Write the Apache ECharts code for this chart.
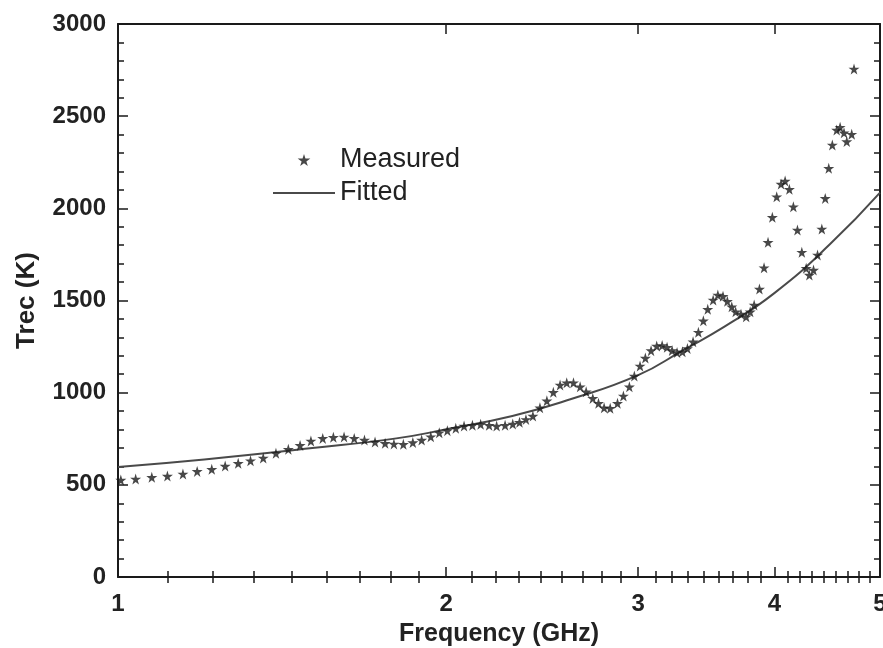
<!DOCTYPE html>
<html>
<head>
<meta charset="utf-8">
<script src="https://cdn.jsdelivr.net/npm/echarts@6/dist/echarts.min.js"></script>
<style>
html, body { margin: 0; padding: 0; background: #fff; }
#chart { width: 883px; height: 648px; }
</style>
</head>
<body>
<div id="chart"></div>
<script>
// Measured receiver temperature (K) vs frequency (GHz)
const measFreq = [
  1.006, 1.038, 1.074, 1.110, 1.147, 1.182, 1.219, 1.254, 1.289, 1.323,
  1.359, 1.396, 1.433, 1.469, 1.503, 1.541, 1.576, 1.612, 1.647, 1.683,
  1.721, 1.758, 1.791, 1.827, 1.864, 1.899, 1.936, 1.971, 2.005, 2.041,
  2.077, 2.114, 2.151, 2.190, 2.225, 2.265, 2.302, 2.335, 2.367, 2.402,
  2.438, 2.474, 2.508, 2.544, 2.580, 2.617, 2.654, 2.688, 2.726, 2.759,
  2.792, 2.828, 2.872, 2.908, 2.945, 2.976, 3.012, 3.046, 3.083, 3.120,
  3.156, 3.189, 3.223, 3.257, 3.294, 3.329, 3.369, 3.407, 3.443, 3.475,
  3.515, 3.550, 3.589, 3.622, 3.656, 3.686, 3.728, 3.769, 3.801, 3.833,
  3.876, 3.914, 3.947, 3.983, 4.020, 4.057, 4.092, 4.129, 4.164, 4.200,
  4.239, 4.278, 4.307, 4.345, 4.382, 4.422, 4.454, 4.487, 4.521, 4.563,
  4.596, 4.634, 4.661, 4.710, 4.733
];
const measTrec = [
  526, 532, 541, 548, 559, 573, 584, 602, 617, 631,
  646, 671, 693, 714, 738, 752, 758, 760, 752, 743,
  732, 725, 722, 720, 729, 743, 761, 783, 794, 807,
  819, 823, 828, 823, 819, 823, 830, 839, 855, 873,
  918, 956, 1002, 1042, 1054, 1054, 1032, 1005, 969, 942,
  918, 915, 942, 982, 1032, 1090, 1145, 1188, 1228, 1253,
  1256, 1246, 1229, 1218, 1222, 1239, 1276, 1328, 1390, 1452,
  1503, 1530, 1523, 1496, 1466, 1439, 1426, 1412, 1439, 1476,
  1562, 1678, 1816, 1951, 2063, 2132, 2148, 2103, 2009, 1882,
  1762, 1675, 1638, 1665, 1747, 1888, 2054, 2217, 2344, 2425,
  2440, 2410, 2362, 2402, 2756
];

// Fitted curve
const fitFreq = [1.0, 1.2, 1.5, 1.8, 2.0, 2.3, 2.6, 3.0, 3.3, 3.6, 4.0, 4.5, 5.0];
const fitTrec = [597, 638, 698, 752, 801, 873, 964, 1095, 1231, 1358, 1540, 1806, 2085];

// Axis ticks
const xMajor = [1, 2, 3, 4, 5];
const xMinor = [];
for (let i = 1; i < 5; i++) {
  for (let k = 1; k <= 8; k++) xMinor.push(i + k / 9);
}

const starPath = 'path://M50,0 L61,35 L98,35 L68,57 L79,91 L50,70 L21,91 L32,57 L2,35 L39,35 Z';
const dashPath = 'path://M0,0 L62,0 L62,2 L0,2 Z';
const font = 'Liberation Sans';
const ink = '#1a1a1a';

const chart = echarts.init(document.getElementById('chart'));

const lineStyle = { color: ink, width: 2 };
const tickStyle = { color: ink, width: 1.5 };

function logAxis(pos, extra) {
  return Object.assign({
    type: 'log',
    logBase: 10,
    min: 1,
    max: 5,
    position: pos,
    axisLine: { show: false },
    axisLabel: { show: false },
    splitLine: { show: false },
    minorTick: { show: false },
    minorSplitLine: { show: false }
  }, extra);
}

const option = {
  animation: false,
  backgroundColor: '#fff',
  grid: { left: 118, right: 3, top: 24, bottom: 71, containLabel: false, outerBoundsMode: 'none' },
  legend: {
    orient: 'vertical',
    left: 268,
    top: 140,
    itemWidth: 62,
    itemHeight: 12,
    itemGap: 3,
    textStyle: { fontFamily: font, fontSize: 27, color: '#222', lineHeight: 30 },
    data: [
      { name: 'Measured', icon: starPath },
      { name: 'Fitted', icon: dashPath }
    ]
  },
  xAxis: [
    logAxis('bottom', {
      axisLine: { show: true, onZero: false, lineStyle: lineStyle },
      axisTick: { show: true, inside: true, length: 10, customValues: xMajor, lineStyle: tickStyle },
      axisLabel: {
        show: true, customValues: xMajor, margin: 15,
        formatter: v => String(v),
        fontFamily: font, fontSize: 24, fontWeight: 'bold', color: '#222'
      },
      name: 'Frequency (GHz)',
      nameLocation: 'middle',
      nameGap: 45,
      nameTextStyle: { fontFamily: font, fontSize: 25, fontWeight: 'bold', color: '#222' }
    }),
    logAxis('bottom', {
      axisTick: { show: true, inside: true, length: 6, customValues: xMinor, lineStyle: tickStyle }
    }),
    logAxis('top', {
      axisLine: { show: true, onZero: false, lineStyle: lineStyle },
      axisTick: { show: true, inside: true, length: 10, customValues: [2, 3, 4], lineStyle: tickStyle }
    }),
    logAxis('top', {
      axisTick: { show: true, inside: true, length: 6, customValues: xMinor, lineStyle: tickStyle }
    })
  ],
  yAxis: [
    {
      type: 'value',
      min: 0,
      max: 3000,
      interval: 500,
      position: 'left',
      axisLine: { show: true, onZero: false, lineStyle: lineStyle },
      axisTick: { show: true, inside: true, length: 10, lineStyle: tickStyle },
      minorTick: { show: true, splitNumber: 5, length: 6, lineStyle: tickStyle },
      axisLabel: {
        margin: 12, formatter: v => String(v),
        fontFamily: font, fontSize: 24, fontWeight: 'bold', color: '#222'
      },
      splitLine: { show: false },
      name: 'Trec (K)',
      nameLocation: 'middle',
      nameGap: 78,
      nameTextStyle: { fontFamily: font, fontSize: 26, fontWeight: 'bold', color: '#222' }
    },
    {
      type: 'value',
      min: 0,
      max: 3000,
      interval: 500,
      position: 'right',
      axisLine: { show: true, onZero: false, lineStyle: lineStyle },
      axisTick: { show: true, inside: true, length: 10, lineStyle: tickStyle },
      minorTick: { show: true, splitNumber: 5, length: 6, lineStyle: tickStyle },
      axisLabel: { show: false },
      splitLine: { show: false }
    }
  ],
  series: [
    {
      name: 'Measured',
      type: 'scatter',
      xAxisIndex: 0,
      yAxisIndex: 0,
      symbol: starPath,
      symbolSize: 11,
      itemStyle: { color: ink },
      data: measFreq.map((f, i) => [f, measTrec[i]])
    },
    {
      name: 'Fitted',
      type: 'line',
      xAxisIndex: 0,
      yAxisIndex: 0,
      smooth: true,
      symbol: 'none',
      showSymbol: false,
      lineStyle: { color: '#4a4a4a', width: 2 },
      itemStyle: { color: '#4a4a4a' },
      data: fitFreq.map((f, i) => [f, fitTrec[i]]),
      z: 1
    }
  ]
};

chart.setOption(option);
</script>
</body>
</html>
